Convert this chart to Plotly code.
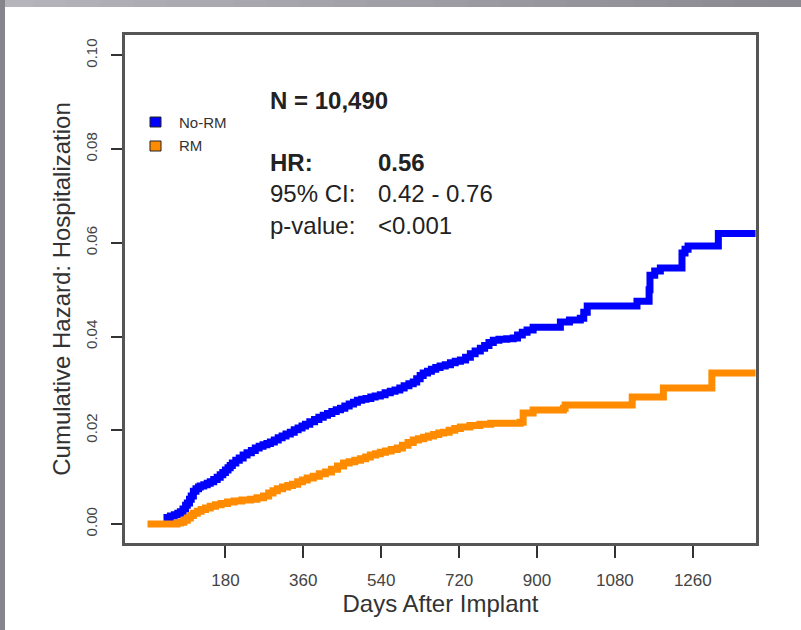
import plotly.graph_objects as go

# ---- data ----
norm_days = [37, 45, 53, 62, 70, 76, 82, 88, 92, 97, 101, 106, 112, 118, 122, 130, 138, 145, 153, 161,
             168, 174, 180, 186, 191, 196, 204, 212, 221, 230, 240, 249, 258, 267, 276, 284, 293, 302,
             311, 320, 330, 339, 348, 357, 365, 375, 386, 396, 406, 416, 426, 436, 446, 456, 466, 476,
             485, 495, 505, 516, 526, 538, 549, 561, 572, 583, 593, 604, 614, 622, 630, 637, 647, 656,
             666, 676, 688, 700, 711, 723, 735, 746, 757, 769, 779, 789, 799, 812, 830, 845, 855, 866,
             877, 891, 954, 975, 1000, 1008, 1016, 1131, 1159, 1161, 1172, 1185, 1235, 1242, 1249, 1319,
             1405]
norm_haz = [0.0011, 0.0014, 0.0017, 0.0020, 0.0023, 0.0026, 0.0032, 0.0040, 0.0045, 0.0053, 0.0060,
            0.0070, 0.0075, 0.0079, 0.0081, 0.0084, 0.0087, 0.0090, 0.0095, 0.0100, 0.0105, 0.0110,
            0.0115, 0.0120, 0.0125, 0.0130, 0.0136, 0.0141, 0.0147, 0.0152, 0.0157, 0.0162, 0.0166,
            0.0169, 0.0172, 0.0175, 0.0179, 0.0184, 0.0188, 0.0192, 0.0196, 0.0201, 0.0205, 0.0209,
            0.0213, 0.0218, 0.0223, 0.0228, 0.0232, 0.0236, 0.0240, 0.0244, 0.0247, 0.0252, 0.0256,
            0.0260, 0.0264, 0.0266, 0.0268, 0.0271, 0.0273, 0.0276, 0.0280, 0.0283, 0.0286, 0.0290,
            0.0295, 0.0299, 0.0303, 0.0310, 0.0317, 0.0322, 0.0326, 0.0330, 0.0334, 0.0337, 0.0340,
            0.0344, 0.0347, 0.0350, 0.0356, 0.0363, 0.0369, 0.0375, 0.0381, 0.0387, 0.0392, 0.0394,
            0.0395, 0.0397, 0.0403, 0.0409, 0.0414, 0.0420, 0.0431, 0.0435, 0.0439, 0.0452, 0.0465,
            0.0475, 0.0500, 0.0531, 0.0540, 0.0546, 0.0578, 0.0586, 0.0593, 0.0620, 0.0620]

rm_days = [0, 60, 68, 76, 84, 92, 99, 106, 115, 124, 134, 145, 157, 170, 185, 200, 218, 238, 253, 268,
           280, 290, 300, 312, 324, 335, 347, 358, 369, 383, 397, 411, 425, 439, 453, 466, 479, 492,
           504, 515, 527, 538, 550, 563, 577, 589, 602, 614, 626, 638, 649, 661, 673, 684, 697, 710,
           723, 745, 768, 793, 861, 868, 891, 961, 965, 1120, 1192, 1304, 1405]
rm_haz = [0.0, 0.0, 0.0002, 0.0004, 0.0008, 0.0013, 0.0018, 0.0023, 0.0027, 0.0031, 0.0034, 0.0038,
          0.0041, 0.0044, 0.0047, 0.0049, 0.0051, 0.0053, 0.0056, 0.0060, 0.0066, 0.0071, 0.0075,
          0.0079, 0.0082, 0.0085, 0.0090, 0.0094, 0.0098, 0.0102, 0.0107, 0.0111, 0.0117, 0.0124,
          0.0130, 0.0133, 0.0136, 0.0139, 0.0143, 0.0147, 0.0150, 0.0153, 0.0156, 0.0159, 0.0162,
          0.0168, 0.0174, 0.0179, 0.0182, 0.0185, 0.0188, 0.0191, 0.0194, 0.0196, 0.0200, 0.0204,
          0.0207, 0.0210, 0.0213, 0.0215, 0.0217, 0.0237, 0.0243, 0.0247, 0.0254, 0.0271, 0.0290,
          0.0322, 0.0322]

x_ticks = [180, 360, 540, 720, 900, 1080, 1260]
y_ticks = [0.00, 0.02, 0.04, 0.06, 0.08, 0.10]
y_ticklabels = ["0.00", "0.02", "0.04", "0.06", "0.08", "0.10"]

series_names = ["No-RM", "RM"]
series_colors = ["#0000ff", "#ff8c00"]

# ---- layout geometry (pixels) ----
W, H = 801, 630
L, R, T, B = 125, 756, 35, 543
pw, ph = R - L, B - T


def px(x):
    return (x - L) / pw


def py(y):
    return (B - y) / ph


fig = go.Figure()
for days, haz, name, col in [(norm_days, norm_haz, series_names[0], series_colors[0]),
                             (rm_days, rm_haz, series_names[1], series_colors[1])]:
    fig.add_trace(go.Scatter(x=days, y=haz, mode="lines", name=name,
                             line=dict(color=col, width=7, shape="hv"),
                             showlegend=False))

shapes = []
# gray frame strips (background border of the slide)
n = 24
for i in range(n):
    x0 = i * W / n
    x1 = (i + 1) * W / n + 1
    t = i / (n - 1)
    c = int(182 - t * 42)
    shapes.append(dict(type="rect", xref="paper", yref="paper",
                       x0=px(x0), x1=px(x1), y0=py(7), y1=py(0),
                       fillcolor=f"rgb({c},{c-2},{c+5})", line=dict(width=0), layer="below"))
shapes.append(dict(type="rect", xref="paper", yref="paper",
                   x0=px(0), x1=px(5), y0=py(H), y1=py(0),
                   fillcolor="rgb(135,133,140)", line=dict(width=0), layer="below"))
# legend squares
for i, col in enumerate(series_colors):
    yc = 122 + 24 * i
    shapes.append(dict(type="rect", xref="paper", yref="paper",
                       x0=px(150), x1=px(161), y0=py(yc + 5), y1=py(yc - 5),
                       fillcolor=col, line=dict(color="#222", width=1)))

annotations = []
for i, name in enumerate(series_names):
    annotations.append(dict(xref="paper", yref="paper", x=px(177), y=py(122 + 24 * i),
                            text=name, showarrow=False, xanchor="left", yanchor="middle",
                            font=dict(size=15, color="#333", family="Liberation Sans, Arial")))

stat_font = dict(size=24, color="#222", family="Liberation Sans, Arial")
stats = [
    (268, 100, "<b>N = 10,490</b>"),
    (268, 162, "<b>HR:</b>"),
    (376, 162, "<b>0.56</b>"),
    (268, 193, "95% CI:"),
    (376, 193, "0.42 - 0.76"),
    (268, 225, "p-value:"),
    (376, 225, "<0.001"),
]
for x, y, txt in stats:
    annotations.append(dict(xref="paper", yref="paper", x=px(x), y=py(y), text=txt,
                            showarrow=False, xanchor="left", yanchor="middle", font=stat_font))

fig.update_layout(
    width=W, height=H,
    margin=dict(l=L, r=W - R, t=T, b=H - B),
    paper_bgcolor="white", plot_bgcolor="white",
    font=dict(family="Liberation Sans, Arial", color="#333"),
    shapes=shapes, annotations=annotations,
    xaxis=dict(range=[-52, 1406], tickvals=x_ticks, ticks="outside", ticklen=12, tickwidth=2,
               tickcolor="#333", showgrid=False, zeroline=False,
               showline=True, mirror=True, linecolor="#555", linewidth=2.5,
               tickfont=dict(size=17, color="#444"), ticklabelstandoff=8,
               title=dict(text="Days After Implant", font=dict(size=24, color="#333"), standoff=2)),
    yaxis=dict(range=[-0.00405, 0.10433], tickvals=y_ticks, ticktext=y_ticklabels,
               ticks="outside", ticklen=11, tickwidth=2, tickcolor="#333", tickangle=-90,
               showgrid=False, zeroline=False,
               showline=True, mirror=True, linecolor="#555", linewidth=2.5,
               tickfont=dict(size=15, color="#444"), ticklabelstandoff=8,
               title=dict(text="Cumulative Hazard: Hospitalization", font=dict(size=24, color="#333"),
                          standoff=6)),
)

fig.write_html("out.html")
